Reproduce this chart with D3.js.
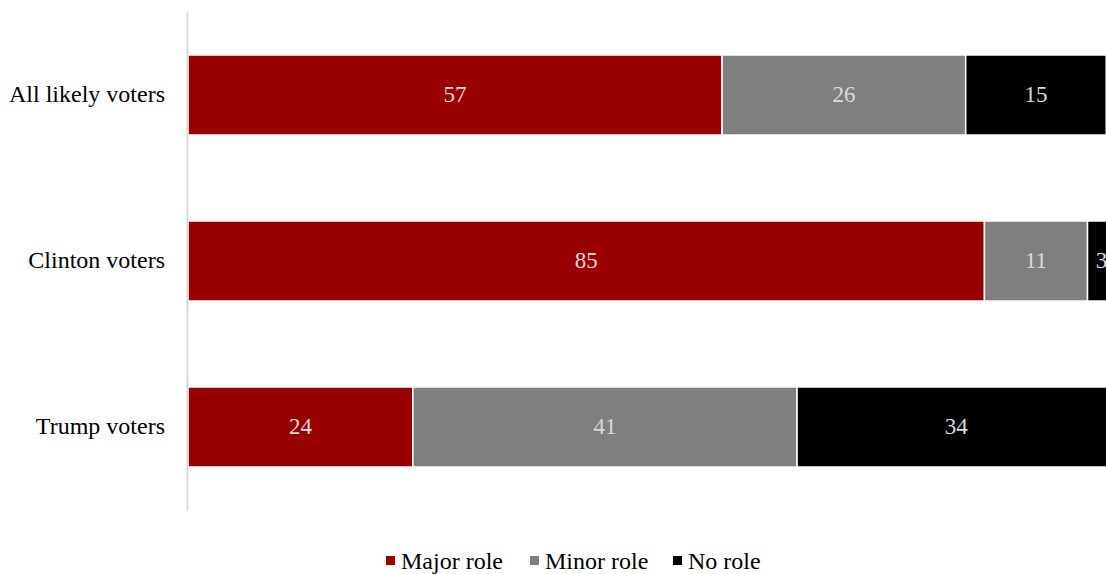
<!DOCTYPE html>
<html>
<head>
<meta charset="utf-8">
<script src="https://cdn.jsdelivr.net/npm/d3@7"></script>
<style>
  body { margin: 0; background: #fff; }
  svg { display: block; font-family: "Liberation Serif", "Times New Roman", serif; }
</style>
</head>
<body>
<script>
// data
const groups = ['All likely voters', 'Clinton voters', 'Trump voters']
const seriesNames = ['Major role', 'Minor role', 'No role']
const majorRole = [57, 85, 24]
const minorRole = [26, 11, 41]
const noRole = [15, 3, 34]

const colors = ['#990000', '#7f7f7f', '#000000']

const width = 1106, height = 574
const fontSize = 24

const svg = d3.select('body').append('svg')
    .attr('width', width)
    .attr('height', height)

// rows built from the arrays
const rows = groups.map((g, i) => ({
    group: g,
    'Major role': majorRole[i],
    'Minor role': minorRole[i],
    'No role': noRole[i]
}))

const stacked = d3.stack().keys(seriesNames)(rows)

const x = d3.scaleLinear()
    .domain([0, 100])
    .range([188, 1125])

const y = d3.scaleBand()
    .domain(groups)
    .range([12, 510])
    .paddingInner(0.518)
    .paddingOuter(0.259)

const color = d3.scaleOrdinal().domain(seriesNames).range(colors)

// bars
const layer = svg.append('g')
    .selectAll('g')
    .data(stacked)
    .join('g')
    .attr('fill', d => color(d.key))

layer.selectAll('rect')
    .data(d => d)
    .join('rect')
    .attr('x', d => x(d[0]))
    .attr('y', d => y(d.data.group))
    .attr('width', d => x(d[1]) - x(d[0]))
    .attr('height', y.bandwidth())
    .attr('stroke', '#fff')
    .attr('stroke-width', 1.5)

// value labels
layer.selectAll('text')
    .data(d => d)
    .join('text')
    .attr('x', d => (x(d[0]) + x(d[1])) / 2)
    .attr('y', d => y(d.data.group) + y.bandwidth() / 2)
    .attr('dy', '0.32em')
    .attr('text-anchor', 'middle')
    .attr('fill', '#d9d9d9')
    .attr('font-size', 23)
    .text(d => d[1] - d[0])

// category axis (line only, no ticks)
const yAxis = d3.axisLeft(y).tickSize(0).tickPadding(22)
const yG = svg.append('g')
    .attr('transform', `translate(${187},0)`)
    .call(yAxis)
yG.select('.domain').attr('stroke', '#d9d9d9').attr('stroke-width', 2)
yG.selectAll('text')
    .attr('font-family', '"Liberation Serif", "Times New Roman", serif')
    .attr('font-size', fontSize)
    .attr('dy', '0.3em')
    .attr('fill', '#000')

// legend
const legendX = [386, 530, 673]
const legend = svg.append('g')
    .selectAll('g')
    .data(seriesNames)
    .join('g')
    .attr('transform', (d, i) => `translate(${legendX[i]},569)`)

legend.append('rect')
    .attr('x', 0)
    .attr('y', -13)
    .attr('width', 9)
    .attr('height', 9)
    .attr('fill', d => color(d))

legend.append('text')
    .attr('x', 15)
    .attr('font-size', fontSize)
    .attr('fill', '#000')
    .text(d => d)
</script>
</body>
</html>
